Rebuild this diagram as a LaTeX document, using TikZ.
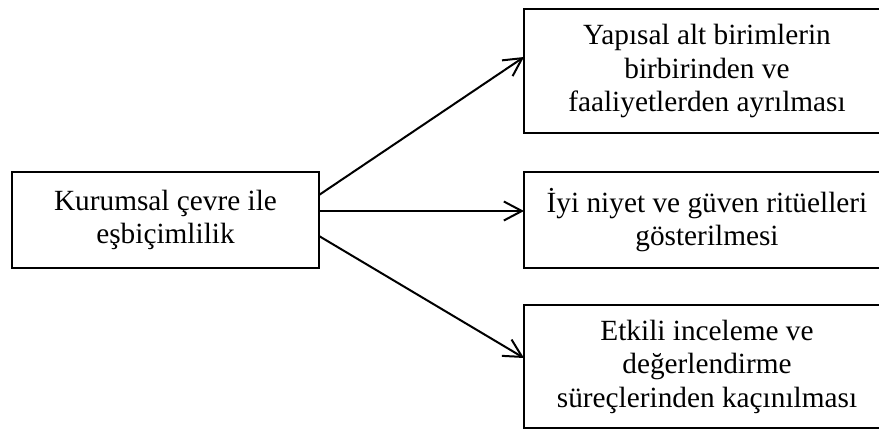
\documentclass[tikz,border=0pt]{standalone}
\usepackage{fontspec}
\setmainfont{Liberation Serif}
\usetikzlibrary{arrows.meta}

\begin{document}
\begin{tikzpicture}[x=1pt, y=-1pt, line width=2pt,
  >={Straight Barb[length=18pt,width=19pt]},
  nodes={draw, inner sep=0pt, outer sep=0pt, align=center,
    font=\fontsize{29.3}{33.5}\selectfont}]
\useasboundingbox (0, 0) rectangle (879, 430);
\node[minimum width=307pt, minimum height=96pt]  (iso) at (165.5, 220) {Kurumsal çevre ile\\eşbiçimlilik};
\node[minimum width=366pt, minimum height=124pt] (r1)  at (707, 71)    {Yapısal alt birimlerin\\birbirinden ve\\faaliyetlerden ayrılması};
\node[minimum width=366pt, minimum height=96pt]  (r2)  at (707, 220)   {İyi niyet ve güven ritüelleri\\gösterilmesi};
\node[minimum width=366pt, minimum height=123pt] (r3)  at (707, 366.5) {Etkili inceleme ve\\değerlendirme\\süreçlerinden kaçınılması};

\path[->]
([yshift=25pt]iso.east)  edge ([yshift=14pt]r1.west)
([yshift=9pt]iso.east)   edge ([yshift=9pt]r2.west)
([yshift=-16pt]iso.east) edge ([yshift=8.5pt]r3.west);
\end{tikzpicture}
\end{document}
